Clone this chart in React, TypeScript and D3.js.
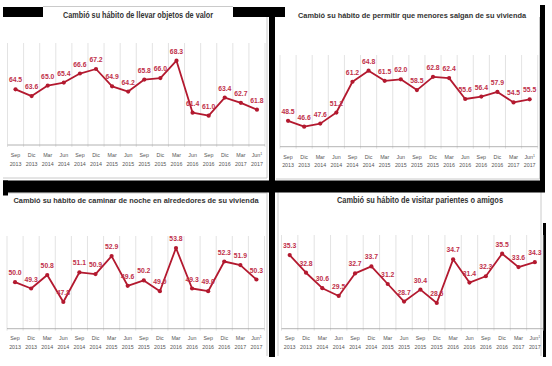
import React from "react";
import * as d3 from "d3";

const months = ["Sep","Dic","Mar","Jun","Sep","Dic","Mar","Jun","Sep","Dic","Mar","Jun","Sep","Dic","Mar","Jun"];
const years = ["2013","2013","2014","2014","2014","2014","2015","2015","2015","2015","2016","2016","2016","2016","2017","2017"];

const titles = [
  "Cambió su hábito de llevar objetos de valor",
  "Cambió su hábito de permitir que menores salgan de su vivienda",
  "Cambió su hábito de caminar de noche en alrededores de su vivienda",
  "Cambió su hábito de visitar parientes o amigos",
];

const valuesObjetos = [64.5, 63.6, 65.0, 65.4, 66.6, 67.2, 64.9, 64.2, 65.8, 66.0, 68.3, 61.4, 61.0, 63.4, 62.7, 61.8];
const valuesMenores = [48.5, 46.6, 47.6, 51.2, 61.2, 64.8, 61.5, 62.0, 58.5, 62.8, 62.4, 55.6, 56.4, 57.9, 54.5, 55.5];
const valuesCaminar = [50.0, 49.3, 50.8, 47.8, 51.1, 50.9, 52.9, 49.6, 50.2, 49.0, 53.8, 49.3, 49.0, 52.3, 51.9, 50.3];
const valuesVisitar = [35.3, 32.8, 30.6, 29.5, 32.7, 33.7, 31.2, 28.7, 30.4, 28.5, 34.7, 31.4, 32.3, 35.5, 33.6, 34.3];

const seriesList = [valuesObjetos, valuesMenores, valuesCaminar, valuesVisitar];

const layout = [
  { x0: 7.5, x1: 265, axisY: 145, gridTop: 43, yDom: [57.1, 71], yRange: [145, 40.4], titleX: 138, titleY: 17.5, titleW: 150, titleFs: 8.3, tickY: 157 },
  { x0: 280, x1: 537.7, axisY: 146.7, gridTop: 55, yDom: [40, 70], yRange: [147, 54.7], titleX: 412, titleY: 17.5, titleW: 228, titleFs: 7.6, tickY: 158.5 },
  { x0: 7, x1: 264.5, axisY: 328.7, gridTop: 236, yDom: [44.8, 55.2], yRange: [329, 235.4], titleX: 136, titleY: 202.5, titleW: 245, titleFs: 7.8, tickY: 340 },
  { x0: 281.5, x1: 543, axisY: 328.7, gridTop: 235, yDom: [24.85, 38.2], yRange: [328.7, 234.7], titleX: 420, titleY: 203, titleW: 166, titleFs: 8.3, tickY: 340 },
];

const RED = "#b3192f";
const LABEL_RED = "#c0304a";
const FONT = "'Liberation Sans Narrow', 'Arial Narrow', 'Liberation Sans', Arial, sans-serif";

function Panel({ idx }: { idx: number }) {
  const L = layout[idx];
  const values = seriesList[idx];
  const x = d3.scaleBand<number>().domain(d3.range(values.length)).range([L.x0, L.x1]).padding(0);
  const y = d3.scaleLinear().domain(L.yDom).range(L.yRange);
  const cx = (i: number) => (x(i) as number) + x.bandwidth() / 2;
  const line = d3.line<number>().x((_, i) => cx(i)).y((d) => y(d));
  const edges = d3.range(values.length + 1).map((i) => L.x0 + i * x.bandwidth());
  return (
    <g>
      {edges.map((ex, i) => (
        <line key={"g" + i} x1={ex} x2={ex} y1={L.gridTop} y2={L.axisY + 2} stroke="#dcdcdc" strokeWidth={0.8} />
      ))}
      <line x1={L.x0} x2={L.x1} y1={L.axisY} y2={L.axisY} stroke="#a0a0a0" strokeWidth={0.8} />
      <text x={L.titleX} y={L.titleY} textAnchor="middle" fontFamily={FONT} fontWeight="bold" fontSize={L.titleFs} fill="#333"
        textLength={L.titleW} lengthAdjust="spacingAndGlyphs">{titles[idx]}</text>
      <path d={line(values) || ""} fill="none" stroke={RED} strokeWidth={1.8} strokeLinejoin="round" />
      {values.map((v, i) => (
        <circle key={"c" + i} cx={cx(i)} cy={y(v)} r={2.1} fill={RED} />
      ))}
      {values.map((v, i) => (
        <text key={"l" + i} x={cx(i)} y={y(v) - 7} textAnchor="middle" fontFamily={FONT} fontWeight="bold" fontSize={6.8} fill={LABEL_RED}>
          {v.toFixed(1)}
        </text>
      ))}
      {months.map((m, i) => (
        <text key={"m" + i} x={cx(i)} y={L.tickY} textAnchor="middle" fontFamily={FONT} fontSize={5.3} fill="#555">
          {m}
          {i === months.length - 1 ? <tspan dy={-2} fontSize={3.5}>1</tspan> : null}
        </text>
      ))}
      {years.map((yr, i) => (
        <text key={"y" + i} x={cx(i)} y={L.tickY + 8.5} textAnchor="middle" fontFamily={FONT} fontSize={5.3} fill="#555">
          {yr}
        </text>
      ))}
    </g>
  );
}

export default function App() {
  return (
    <svg width={552} height={366} viewBox="0 0 552 366" style={{ position: "absolute", left: 0, top: 0, background: "#fff" }}>
      <rect x={0} y={0} width={552} height={366} fill="#fff" />
      <g stroke="#bdbdbd" strokeWidth={0.8} fill="none">
        <line x1={43} x2={233} y1={6.5} y2={6.5} />
        <line x1={267} x2={267} y1={17} y2={178} />
        <line x1={3} x2={267} y1={178} y2={178} />
        <line x1={539.5} x2={539.5} y1={17} y2={179} />
        <line x1={276} x2={540} y1={179} y2={179} />
        <line x1={8} x2={267} y1={193} y2={193} />
        <line x1={267} x2={267} y1={193} y2={356} />
        <line x1={278} x2={541} y1={191.5} y2={191.5} />
        <line x1={278} x2={278} y1={191.5} y2={356} />
        <line x1={541} x2={541} y1={191.5} y2={356} />
      </g>
      <g fill="#000">
        <rect x={3} y={7} width={40} height={10} />
        <rect x={233} y={7} width={52} height={10} />
        <rect x={269} y={7} width={6} height={350} />
        <rect x={3} y={180.5} width={542} height={12} />
        <rect x={3} y={180.5} width={5} height={15} />
        <rect x={540} y={5} width={5} height={176} />
        <rect x={543} y={223} width={3} height={134} />
      </g>
      {[0, 1, 2, 3].map((i) => (
        <Panel key={i} idx={i} />
      ))}
    </svg>
  );
}
